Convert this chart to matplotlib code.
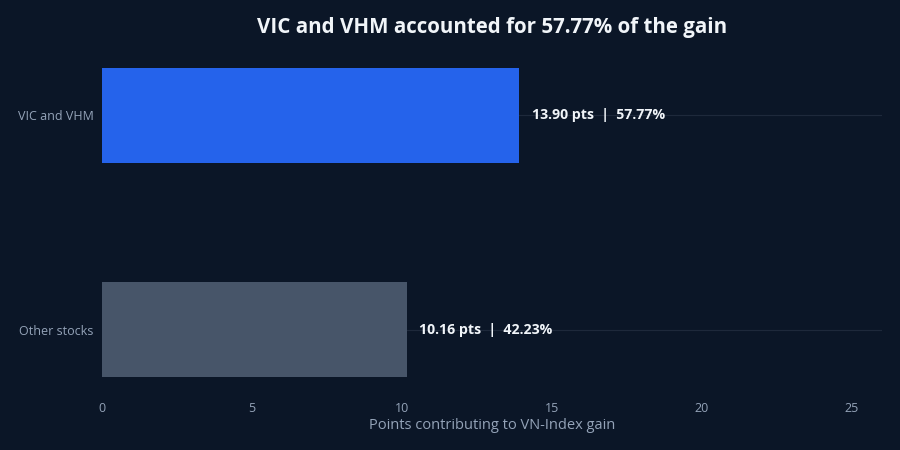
import matplotlib
matplotlib.use('Agg')
from matplotlib import pyplot as plt

categories = ['VIC and VHM', 'Other stocks']
points = [13.90, 10.16]
shares = [57.77, 42.23]
colors = ['#2563eb', '#475569']

bg = '#0b1627'
plt.rcParams['font.family'] = ['Open Sans', 'Noto Sans', 'DejaVu Sans']

fig = plt.figure(figsize=(9, 4.5), dpi=100, facecolor=bg)
ax = fig.add_axes([0.1133, 0.1244, 0.8667, 0.7623], facecolor=bg)

ypos = list(range(len(categories)))
ax.barh(ypos, points, height=0.445, color=colors, zorder=3)

# value labels just past the bar ends
for y, p, s in zip(ypos, points, shares):
    ax.text(p + 0.42, y, f'{p:.2f} pts  |  {s:.2f}%', va='center', ha='left',
            color='#f1f5f9', fontsize=10.2, fontweight='bold', zorder=4)

ax.set_yticks(ypos)
ax.set_yticklabels(categories)
ax.set_ylim(1.3, -0.3)
ax.set_xlim(0, 26)
ax.set_xticks([0, 5, 10, 15, 20, 25])

ax.grid(axis='y', color='#1e293b', linewidth=0.8, zorder=0)
ax.grid(axis='x', visible=False)
for sp in ax.spines.values():
    sp.set_visible(False)
ax.tick_params(axis='both', length=0, colors='#94a3b8', labelsize=9)
ax.tick_params(axis='y', pad=6)
ax.tick_params(axis='x', pad=5.5)

ax.set_xlabel('Points contributing to VN-Index gain', color='#94a3b8', fontsize=10.5, labelpad=2.5)
fig.text(0.547, 0.94, 'VIC and VHM accounted for 57.77% of the gain', ha='center', va='center',
         color='#f1f5f9', fontsize=14.8, fontweight='bold')

fig.savefig('out.png', dpi=100, facecolor=bg)
